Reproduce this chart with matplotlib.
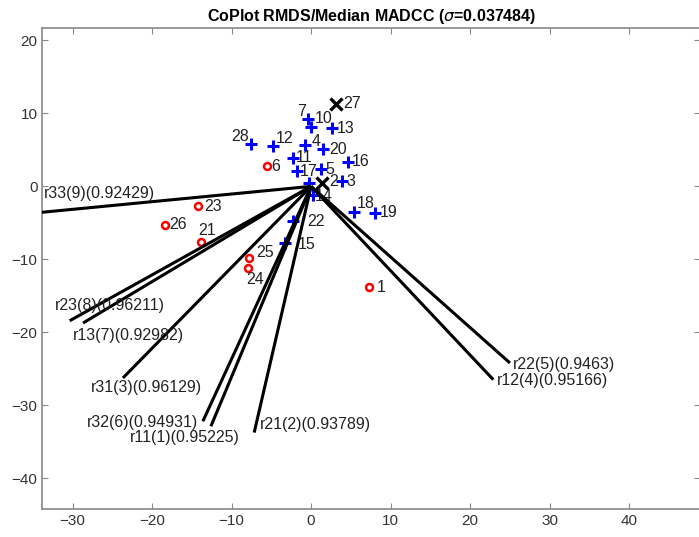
import matplotlib
matplotlib.use("Agg")
import matplotlib.pyplot as plt

plt.rcParams['font.family'] = ['Liberation Sans', 'DejaVu Sans']

# points of the CoPlot map
red_names = ["1", "6", "21", "23", "24", "25", "26"]
red_x = [7.32, -5.59, -13.86, -14.16, -7.95, -7.75, -18.34]
red_y = [-13.80, 2.77, -7.65, -2.69, -11.21, -9.84, -5.29]

cross_names = ["2", "27"]
cross_x = [1.34, 3.14]
cross_y = [0.41, 11.34]

plus_names = ["3", "4", "5", "7", "8", "10", "11", "12", "13", "14", "15",
              "16", "17", "18", "19", "20", "22", "28"]
plus_x = [3.86, -0.75, 1.26, -0.34, -0.21, 0.0, -2.22, -4.74, 2.60, 0.29,
          -3.27, 4.61, -1.80, 5.44, 8.04, 1.47, -2.30, -7.61]
plus_y = [0.72, 5.64, 2.32, 9.16, 0.49, 8.15, 3.83, 5.51, 7.93, -1.19,
          -7.71, 3.36, 2.09, -3.47, -3.61, 5.06, -4.70, 5.74]

# variable arrows (from the origin)
arrow_names = ["r11(1)(0.95225)", "r21(2)(0.93789)", "r31(3)(0.96129)",
               "r12(4)(0.95166)", "r22(5)(0.9463)", "r32(6)(0.94931)",
               "r13(7)(0.92982)", "r23(8)(0.96211)", "r33(9)(0.92429)"]
arrow_x = [-12.60, -7.16, -23.66, 22.90, 25.0, -13.61, -28.68, -30.36, -34.5]
arrow_y = [-32.86, -33.72, -26.24, -26.47, -24.19, -32.17, -18.72, -18.41, -3.62]

# label offsets in pixels
label_off = {
    "1": (7, 0), "2": (7, 2), "3": (5, 0), "4": (6, 4), "5": (4, 0),
    "6": (5, 0), "7": (-11, 8), "8": None, "10": (4, 8), "11": (2, 1),
    "12": (2, 8), "13": (5, 0), "14": (1, -1), "15": (13, -2), "16": (4, 0),
    "17": (3, 0), "18": (2, 8), "19": (5, 0), "20": (6, 0), "21": (-3, 12),
    "22": (14, -1), "23": (6, 0), "24": (-2, -11), "25": (7, 6), "26": (4, 0),
    "27": (7, 0), "28": (-19, 8),
}
arrow_off = [(-81, -11), (6, 8), (-32, -10), (4, -1), (3, -2),
             (-116, -1), (-10, -12), (-15, 15), (7, 19)]

fig = plt.figure(figsize=(6.99, 5.37), dpi=100)
ax = fig.add_axes([0.0605, 0.052, 0.941, 0.896])

for xe, ye in zip(arrow_x, arrow_y):
    ax.plot([0, xe], [0, ye], color="black", lw=2.2, zorder=3,
            solid_capstyle="butt")

ax.plot(plus_x, plus_y, "+", color="blue", ms=8, mew=2.2, ls="none", zorder=2)
ax.plot(red_x, red_y, "o", mfc="none", mec="red", ms=5, mew=1.8, ls="none", zorder=2)
ax.plot(cross_x, cross_y, "x", color="black", ms=8, mew=2.4, ls="none", zorder=2)

for names, xs, ys in [(plus_names, plus_x, plus_y), (red_names, red_x, red_y),
                      (cross_names, cross_x, cross_y)]:
    for n, x, y in zip(names, xs, ys):
        off = label_off[n]
        if off is None:
            continue
        ax.annotate(n, (x, y), xytext=off, textcoords="offset pixels",
                    ha="left", va="center", fontsize=11.5, color="#222222",
                    zorder=2.5)

for n, x, y, off in zip(arrow_names, arrow_x, arrow_y, arrow_off):
    ax.annotate(n, (x, y), xytext=off, textcoords="offset pixels",
                ha="left", va="center", fontsize=11.5, color="#222222",
                zorder=4, annotation_clip=False)

ax.set_xlim(-33.8, 48.9)
ax.set_ylim(-44.2, 21.7)
ax.set_xticks(range(-30, 41, 10))
ax.set_yticks(range(-40, 21, 10))
ax.tick_params(direction="in", length=4, width=0.8, top=True, right=True,
               colors="#888888", labelcolor="#333333", labelsize=11)
for s in ax.spines.values():
    s.set_color("#888888")
    s.set_linewidth(1.2)

ax.set_title(r"CoPlot RMDS/Median MADCC ($\sigma$=0.037484)",
             fontsize=11.5, fontweight="bold", pad=5)

fig.savefig("out.png", dpi=100)
